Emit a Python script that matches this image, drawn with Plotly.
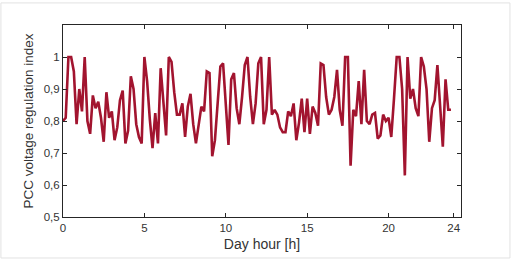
import numpy as np
import plotly.graph_objects as go

# 10-minute resolution over one day
n_points = 144
hours = [i / 6 for i in range(n_points)]

pcc_index = [
    0.80, 0.81, 1.0, 1.0, 0.955, 0.79, 0.90, 0.83, 1.0, 0.80,
    0.76, 0.88, 0.84, 0.86, 0.81, 0.735, 0.89, 0.81, 0.83, 0.74,
    0.78, 0.865, 0.895, 0.73, 0.77, 0.94, 0.90, 0.79, 0.75, 0.73,
    1.0, 0.925, 0.805, 0.715, 0.825, 0.73, 0.965, 0.865, 0.755, 1.0,
    0.985, 0.89, 0.82, 0.82, 0.855, 0.75, 0.845, 0.885, 0.79, 0.73,
    0.79, 0.845, 0.83, 0.955, 0.95, 0.69, 0.74, 0.865, 0.97, 0.98,
    0.855, 0.725, 0.93, 0.95, 0.84, 0.79, 0.875, 0.975, 1.0, 0.875,
    0.79, 0.855, 0.98, 1.0, 0.79, 0.835, 1.0, 0.82, 0.835, 0.82,
    0.78, 0.765, 0.765, 0.83, 0.815, 0.855, 0.74, 0.795, 0.87, 0.765,
    0.87, 0.76, 0.845, 0.825, 0.785, 0.98, 0.975, 0.875, 0.82, 0.835,
    0.875, 0.96, 0.835, 0.785, 1.0, 1.0, 0.66, 0.835, 0.815, 0.925,
    0.79, 0.96, 0.80, 0.79, 0.82, 0.825, 0.745, 0.755, 0.82, 0.80,
    0.81, 0.75, 0.87, 1.0, 1.0, 0.90, 0.63, 1.0, 0.87, 0.90,
    0.84, 0.815, 1.0, 0.97, 0.90, 0.735, 0.84, 0.865, 0.975, 0.835,
    0.72, 0.93, 0.835, 0.835,
]

x_tickvals = [0, 5, 10, 15, 20, 24]
x_ticktext = ["0", "5", "10", "15", "20", "24"]
y_tickvals = [0.5, 0.6, 0.7, 0.8, 0.9, 1.0]
y_ticktext = ["0,5", "0,6", "0,7", "0,8", "0,9", "1"]

fig = go.Figure()
fig.add_trace(go.Scatter(
    x=hours, y=pcc_index, mode="lines",
    line=dict(color="#A2142F", width=2.6),
    showlegend=False, hoverinfo="skip",
))

axis_common = dict(
    showgrid=False, zeroline=False, automargin=False,
    showline=True, linecolor="#262626", linewidth=1, mirror="ticks",
    ticks="inside", ticklen=4, tickcolor="#262626",
    tickfont=dict(size=11.5, color="#333333", family="Liberation Sans"),
)

fig.update_xaxes(
    range=[0, 24.45], tickvals=x_tickvals, ticktext=x_ticktext,
    title=dict(text="Day hour [h]", font=dict(size=14, color="#333333", family="Liberation Sans"), standoff=6),
    **axis_common,
)
fig.update_yaxes(
    range=[0.5, 1.1], tickvals=y_tickvals, ticktext=y_ticktext,
    title=dict(text="PCC voltage regulation index", font=dict(size=13.5, color="#333333", family="Liberation Sans"), standoff=6),
    **axis_common,
)

fig.add_shape(type="rect", xref="paper", yref="paper",
              x0=-0.156, x1=1.123, y0=-0.2135, y1=1.115,
              line=dict(color="#e2e2e2", width=1), layer="below")

fig.update_layout(
    width=515, height=266,
    margin=dict(l=63, r=54, t=25, b=49),
    paper_bgcolor="white", plot_bgcolor="white",
    font=dict(family="Liberation Sans", color="#333333"),
)

fig.write_html("out.html", config={"displayModeBar": False},
               post_script="document.body.style.margin='0';")
